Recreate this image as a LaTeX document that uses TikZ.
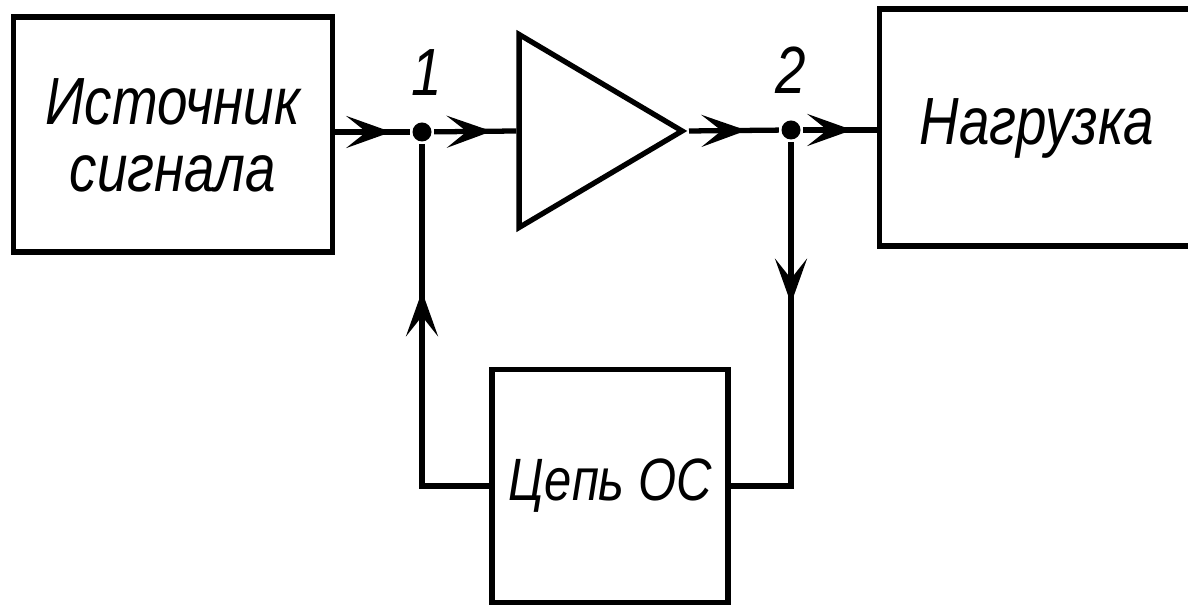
\documentclass[tikz,border=0pt]{standalone}
\usepackage{fontspec}
\setmainfont{Liberation Sans}[FakeStretch=0.82]
\usetikzlibrary{arrows.meta,positioning,shapes.geometric,decorations.markings}

\begin{document}
\begin{tikzpicture}[
    x=0.1mm, y=-0.1mm,
    line width=1.5pt,
    font=\fontsize{19}{19}\selectfont\itshape,
    blockbox/.style={
        draw,
        line width=1.7pt,
        align=center,
        inner sep=0pt
    },
    amplifier/.style={
        draw,
        isosceles triangle,
        isosceles triangle stretches,
        minimum width=19.3mm,
        minimum height=16.3mm,
        inner sep=0pt
    },
    junction/.style={circle, fill, inner sep=0pt, minimum size=1.9mm},
    flow/.style={postaction={decorate},
        decoration={markings, mark=at position #1 with {\arrow{Stealth[length=4.5mm, width=3.2mm, inset=2mm]}}}}
]
\useasboundingbox (0,0) rectangle (1188,607);

\node[blockbox, minimum width=31.9mm, minimum height=23.5mm] (src) at (173,135) {Источник\\сигнала};
\node[amplifier, anchor=apex] (amp) at (689,131) {};
\node[blockbox, minimum width=31.5mm, minimum height=23.7mm] (load) at (1037,128) {Нагрузка};
\node[blockbox, minimum width=23.6mm, minimum height=23.3mm,
      font=\fontsize{17}{17}\selectfont\itshape] (fb) at (610,486) {Цепь ОС};

\node[junction] (j1) at (422,132) {};
\node[junction] (j2) at (791,130) {};
\node[above=1mm of j1, xshift=0.5mm] (n1) {1};
\node[above=1mm of j2] (n2) {2};

\draw[flow=0.75] (j1 -| src.east) -- (j1);
\draw[flow=0.70] (j1) -- (amp.west);
\draw[flow=0.64] (amp.apex) -- (j2);
\draw[flow=0.67] (j2) -- (j2 -| load.west);
\draw[flow=0.40] (j2) |- (fb.east);
\draw[flow=0.64] (fb.west) -| (j1);

\end{tikzpicture}
\end{document}
